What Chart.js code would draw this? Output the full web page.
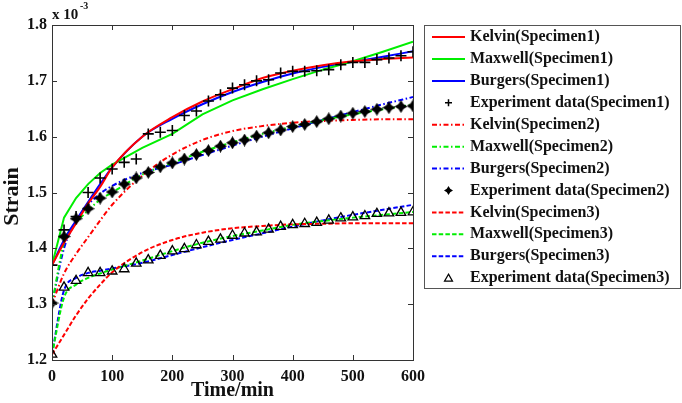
<!DOCTYPE html>
<html>
<head>
<meta charset="utf-8">
<script src="https://cdn.jsdelivr.net/npm/chart.js"></script>
<style>
  html, body { margin: 0; padding: 0; background: #fff; }
  #wrap { width: 682px; height: 403px; }
</style>
</head>
<body>
<div id="wrap"><canvas id="creepChart" width="682" height="403"></canvas></div>
<script>
// strain values are in units of 1e-3 (axis shows "x 10^-3")
const expTime = [0, 20, 40, 60, 80, 100, 120, 140, 160, 180, 200, 220, 240, 260, 280, 300,
  320, 340, 360, 380, 400, 420, 440, 460, 480, 500, 520, 540, 560, 580, 600];
const expSpecimen1 = [1.370, 1.433, 1.457, 1.500, 1.526, 1.542, 1.554, 1.560, 1.605, 1.608, 1.611,
  1.638, 1.646, 1.664, 1.675, 1.687, 1.693, 1.700, 1.702, 1.714, 1.717, 1.717, 1.718, 1.720,
  1.729, 1.733, 1.733, 1.738, 1.741, 1.745, 1.752];
const expSpecimen2 = [1.302, 1.421, 1.453, 1.471, 1.490, 1.501, 1.515, 1.526, 1.536, 1.546, 1.553,
  1.560, 1.568, 1.575, 1.583, 1.589, 1.594, 1.601, 1.607, 1.612, 1.618, 1.622, 1.627, 1.632,
  1.637, 1.642, 1.645, 1.649, 1.652, 1.654, 1.655];
const expSpecimen3 = [1.210, 1.330, 1.342, 1.356, 1.356, 1.359, 1.363, 1.373, 1.379, 1.387, 1.395,
  1.399, 1.406, 1.412, 1.416, 1.423, 1.427, 1.429, 1.434, 1.439, 1.442, 1.444, 1.446, 1.450,
  1.454, 1.456, 1.458, 1.462, 1.463, 1.464, 1.465];

const modelTime = [0, 20, 40, 60, 80, 100, 150, 200, 250, 300, 350, 400, 450, 500, 550, 600];
const kelvin1  = [1.370, 1.410, 1.445, 1.480, 1.510, 1.545, 1.600, 1.635, 1.663, 1.685, 1.705, 1.718, 1.728, 1.735, 1.739, 1.742];
const maxwell1 = [1.370, 1.455, 1.490, 1.515, 1.535, 1.550, 1.580, 1.605, 1.640, 1.665, 1.685, 1.703, 1.720, 1.735, 1.752, 1.770];
const burgers1 = [1.370, 1.415, 1.450, 1.483, 1.515, 1.545, 1.600, 1.632, 1.658, 1.680, 1.698, 1.713, 1.725, 1.734, 1.743, 1.753];
const kelvin2  = [1.300, 1.355, 1.390, 1.420, 1.450, 1.478, 1.530, 1.568, 1.594, 1.610, 1.619, 1.625, 1.628, 1.630, 1.631, 1.631];
const maxwell2 = [1.300, 1.410, 1.445, 1.468, 1.487, 1.500, 1.532, 1.553, 1.573, 1.590, 1.605, 1.618, 1.630, 1.640, 1.649, 1.657];
const burgers2 = [1.300, 1.400, 1.448, 1.478, 1.498, 1.512, 1.535, 1.550, 1.567, 1.584, 1.600, 1.615, 1.630, 1.644, 1.658, 1.671];
const kelvin3  = [1.210, 1.245, 1.280, 1.310, 1.335, 1.357, 1.393, 1.415, 1.428, 1.436, 1.440, 1.443, 1.444, 1.445, 1.445, 1.445];
const maxwell3 = [1.210, 1.312, 1.335, 1.347, 1.355, 1.362, 1.378, 1.395, 1.410, 1.422, 1.432, 1.442, 1.449, 1.455, 1.460, 1.465];
const burgers3 = [1.210, 1.325, 1.347, 1.356, 1.360, 1.364, 1.374, 1.388, 1.402, 1.415, 1.427, 1.439, 1.450, 1.460, 1.469, 1.478];

const yTicks = [1.2, 1.3, 1.4, 1.5, 1.6, 1.7, 1.8];
const xTicks = [0, 100, 200, 300, 400, 500, 600];

const RED = '#ff0000', GREEN = '#00ee00', BLUE = '#0000ff';
const DASHDOT = [5, 2.5, 1.5, 2.5];
const DASHED = [4.5, 2.2];
const SERIF = '"Liberation Serif", "Times New Roman", serif';

const pairs = (xs, ys) => ys.map((v, i) => ({ x: xs[i], y: v }));

function makeStar(size) {
  const c = document.createElement('canvas');
  c.width = c.height = size;
  const g = c.getContext('2d');
  const h = size / 2, k = size * 0.19;
  g.beginPath();
  g.moveTo(h, 0); g.lineTo(h + k, h - k); g.lineTo(size, h); g.lineTo(h + k, h + k);
  g.lineTo(h, size); g.lineTo(h - k, h + k); g.lineTo(0, h); g.lineTo(h - k, h - k);
  g.closePath();
  g.fillStyle = '#000';
  g.fill();
  return c;
}
const starBig = makeStar(13);
const starSmall = makeStar(9);

function curve(label, data, color, dash, straight) {
  return {
    label, data: pairs(modelTime, data), borderColor: color, backgroundColor: color,
    borderWidth: 2, borderDash: dash, pointRadius: 0,
    cubicInterpolationMode: straight ? 'default' : 'monotone', tension: 0,
    fill: false, order: 2, kind: 'line'
  };
}
function markers(label, data, style, radius) {
  return {
    label, data: pairs(expTime, data), showLine: false, pointStyle: style,
    pointRadius: radius, borderColor: '#000', backgroundColor: 'rgba(0,0,0,0)',
    pointBorderWidth: style === 'cross' ? 1.6 : 1.3, order: 0, kind: style
  };
}

const datasets = [
  curve('Kelvin(Specimen1)', kelvin1, RED, []),
  curve('Maxwell(Specimen1)', maxwell1, GREEN, [], true),
  curve('Burgers(Specimen1)', burgers1, BLUE, []),
  markers('Experiment data(Specimen1)', expSpecimen1, 'cross', 5.5),
  curve('Kelvin(Specimen2)', kelvin2, RED, DASHDOT),
  curve('Maxwell(Specimen2)', maxwell2, GREEN, DASHDOT),
  curve('Burgers(Specimen2)', burgers2, BLUE, DASHDOT),
  markers('Experiment data(Specimen2)', expSpecimen2, starBig, 6.5),
  curve('Kelvin(Specimen3)', kelvin3, RED, DASHED),
  curve('Maxwell(Specimen3)', maxwell3, GREEN, DASHED),
  curve('Burgers(Specimen3)', burgers3, BLUE, DASHED),
  markers('Experiment data(Specimen3)', expSpecimen3, 'triangle', 5.5)
];

// frame with inward ticks (MATLAB style), titles and exponent label
const framePlugin = {
  id: 'frame',
  afterDraw(chart) {
    const { ctx, chartArea: a, scales } = chart;
    ctx.save();
    ctx.strokeStyle = '#333';
    ctx.lineWidth = 1;
    ctx.strokeRect(a.left + 0.5, a.top + 0.5, a.right - a.left, a.bottom - a.top);
    ctx.beginPath();
    xTicks.forEach(t => {
      const x = Math.round(scales.x.getPixelForValue(t)) + 0.5;
      ctx.moveTo(x, a.bottom); ctx.lineTo(x, a.bottom - 5);
      ctx.moveTo(x, a.top); ctx.lineTo(x, a.top + 5);
    });
    yTicks.forEach(t => {
      const y = Math.round(scales.y.getPixelForValue(t)) + 0.5;
      ctx.moveTo(a.left, y); ctx.lineTo(a.left + 5, y);
      ctx.moveTo(a.right, y); ctx.lineTo(a.right - 5, y);
    });
    ctx.stroke();

    ctx.fillStyle = '#111';
    ctx.font = 'bold 15px ' + SERIF;
    ctx.textAlign = 'left';
    ctx.textBaseline = 'middle';
    ctx.fillText('x 10', a.left, 15);
    ctx.font = 'bold 10px ' + SERIF;
    ctx.fillText('-3', a.left + 28, 6);

    ctx.font = 'bold 20px ' + SERIF;
    ctx.textAlign = 'center';
    ctx.fillText('Time/min', (a.left + a.right) / 2, 391);

    ctx.translate(12, (a.top + a.bottom) / 2 + 4);
    ctx.rotate(-Math.PI / 2);
    ctx.font = 'bold 22px ' + SERIF;
    ctx.fillText('Strain', 0, 0);
    ctx.restore();
  }
};

const legendBox = { left: 424, top: 25, width: 256, height: 263 };

const legendPlugin = {
  id: 'sideLegend',
  afterDraw(chart) {
    const { ctx } = chart;
    const b = legendBox;
    ctx.save();
    ctx.fillStyle = '#fff';
    ctx.fillRect(b.left, b.top, b.width, b.height);
    ctx.strokeStyle = '#555';
    ctx.lineWidth = 1;
    ctx.strokeRect(b.left + 0.5, b.top + 0.5, b.width, b.height);
    const rowH = b.height / chart.data.datasets.length;
    chart.data.datasets.forEach((ds, i) => {
      const y = b.top + rowH * (i + 0.55);
      const x0 = b.left + 8, x1 = b.left + 41, xm = (x0 + x1) / 2;
      if (ds.kind === 'line') {
        ctx.strokeStyle = ds.borderColor;
        ctx.lineWidth = 2;
        ctx.setLineDash(ds.borderDash);
        ctx.beginPath(); ctx.moveTo(x0, y); ctx.lineTo(x1, y); ctx.stroke();
        ctx.setLineDash([]);
      } else if (ds.kind === 'cross') {
        ctx.strokeStyle = '#000';
        ctx.lineWidth = 1.5;
        ctx.beginPath();
        ctx.moveTo(xm - 3.5, y); ctx.lineTo(xm + 3.5, y);
        ctx.moveTo(xm, y - 3.5); ctx.lineTo(xm, y + 3.5);
        ctx.stroke();
      } else if (ds.kind === 'triangle') {
        ctx.strokeStyle = '#000';
        ctx.lineWidth = 1.2;
        ctx.beginPath();
        ctx.moveTo(xm, y - 4); ctx.lineTo(xm + 4, y + 3); ctx.lineTo(xm - 4, y + 3);
        ctx.closePath(); ctx.stroke();
      } else {
        ctx.drawImage(starSmall, xm - 4.5, y - 4.5);
      }
      ctx.fillStyle = '#111';
      ctx.font = 'bold 16px ' + SERIF;
      ctx.textAlign = 'left';
      ctx.textBaseline = 'middle';
      ctx.fillText(ds.label, b.left + 46, y);
    });
    ctx.restore();
  }
};

new Chart(document.getElementById('creepChart'), {
  type: 'line',
  data: { datasets },
  options: {
    responsive: false,
    animation: false,
    devicePixelRatio: 1,
    layout: { padding: { left: 0, top: 25, right: 269, bottom: 0 } },
    plugins: { legend: { display: false }, tooltip: { enabled: false } },
    scales: {
      x: {
        type: 'linear', min: 0, max: 600,
        afterFit: s => { s.height = 43; },
        afterBuildTicks: s => { s.ticks = xTicks.map(v => ({ value: v })); },
        grid: { display: false, drawTicks: false },
        border: { display: false },
        ticks: { color: '#111', padding: 7, maxRotation: 0, font: { family: SERIF, size: 16, weight: 'bold' } }
      },
      y: {
        min: 1.2, max: 1.8,
        afterFit: s => { s.width = 52; },
        afterBuildTicks: s => { s.ticks = yTicks.map(v => ({ value: v })); },
        grid: { display: false, drawTicks: false },
        border: { display: false },
        ticks: {
          color: '#111', padding: 5,
          font: { family: SERIF, size: 16, weight: 'bold' },
          callback: v => v.toFixed(1)
        }
      }
    }
  },
  plugins: [framePlugin, legendPlugin]
});
</script>
</body>
</html>
